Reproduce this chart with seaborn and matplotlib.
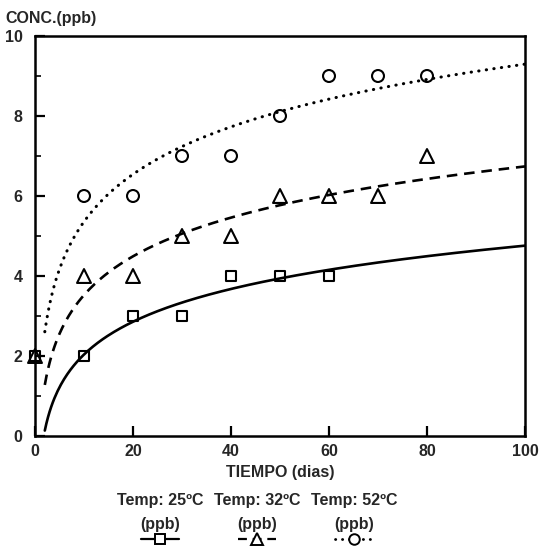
import numpy as np
import pandas as pd
import matplotlib
matplotlib.use("Agg")
import matplotlib.pyplot as plt
from matplotlib.lines import Line2D
import seaborn as sns

# Measured concentrations (ppb) by storage day
dias_25 = [0, 10, 20, 30, 40, 50, 60]
conc_25 = [2, 2, 3, 3, 4, 4, 4]
dias_32 = [0, 10, 20, 30, 40, 50, 60, 70, 80]
conc_32 = [2, 4, 4, 5, 5, 6, 6, 6, 7]
dias_52 = [10, 20, 30, 40, 50, 60, 70, 80]
conc_52 = [6, 6, 7, 7, 8, 9, 9, 9]

series_labels = ["Temp: 25ºC", "Temp: 32ºC", "Temp: 52ºC"]
x_ticks = [0, 20, 40, 60, 80, 100]
y_ticks = [0, 2, 4, 6, 8, 10]

sns.set_style("ticks")
plt.rcParams["font.family"] = ["Liberation Sans", "DejaVu Sans"]
plt.rcParams["font.weight"] = "bold"
FS = 11.5

fig = plt.figure(figsize=(5.42, 5.47), dpi=100)
ax = fig.add_axes([35 / 542, 1 - 436 / 547, 490 / 542, 400 / 547])

styles = [
    dict(marker="s", ls="-", dashes=None, ms=7.8),
    dict(marker="^", ls="--", dashes=(4, 2.6), ms=10),
    dict(marker="o", ls=":", dashes=(0.1, 2.4), ms=8.6),
]
data = [(dias_25, conc_25), (dias_32, conc_32), (dias_52, conc_52)]

x_fit = np.linspace(2, 100, 300)
for (xs, ys), st in zip(data, styles):
    df = pd.DataFrame({"dia": xs, "conc": ys})
    # logarithmic trend fitted on the days after day 0
    d = df[df["dia"] > 0]
    b, a = np.polyfit(np.log(d["dia"]), d["conc"], 1)
    curve = pd.DataFrame({"dia": x_fit, "conc": a + b * np.log(x_fit)})
    line_kw = dict(color="black", lw=1.9, ax=ax)
    if st["dashes"] is not None:
        sns.lineplot(data=curve, x="dia", y="conc", dashes=False, **line_kw)
        ln = ax.lines[-1]
        ln.set_dashes(st["dashes"])
        if st["ls"] == ":":
            ln.set_dash_capstyle("round")
            ln.set_linewidth(2.2)
    else:
        sns.lineplot(data=curve, x="dia", y="conc", **line_kw)
    sns.scatterplot(data=df, x="dia", y="conc", marker=st["marker"], s=st["ms"] ** 2,
                    facecolor="none", edgecolor="black", linewidth=1.5, ax=ax,
                    zorder=3, clip_on=False)

ax.set_xlim(0, 100)
ax.set_ylim(0, 10)
ax.set_xticks(x_ticks)
ax.set_yticks(y_ticks)
ax.set_yticks(np.arange(1, 10, 2), minor=True)
ax.tick_params(axis="both", which="major", direction="in", length=7, width=1.6,
               labelsize=FS, pad=6, color="black")
ax.tick_params(axis="y", which="minor", direction="in", length=4, width=1.4)
ax.tick_params(axis="y", pad=9)
for lab in ax.get_xticklabels() + ax.get_yticklabels():
    lab.set_fontweight("bold")
for sp in ax.spines.values():
    sp.set_visible(True)
    sp.set_linewidth(1.8)
    sp.set_color("black")
ax.set_xlabel("TIEMPO (dias)", fontsize=FS, fontweight="bold", labelpad=4)
ax.set_ylabel("")
fig.text(5 / 542, 1 - 18 / 547, "CONC.(ppb)", fontsize=FS, fontweight="bold",
         ha="left", va="center")

# legend: label above a short line sample with its marker
centers = [160, 257, 354]
for label, cx, st in zip(series_labels, centers, styles):
    fx = cx / 542
    fig.text(fx, 1 - 501 / 547, label, fontsize=FS, fontweight="bold",
             ha="center", va="center")
    fig.text(fx, 1 - 524 / 547, "(ppb)", fontsize=FS, fontweight="bold",
             ha="center", va="center")
    yl = 1 - 539 / 547
    ln = Line2D([(cx - 19) / 542, (cx + 19) / 542], [yl, yl], color="black",
                lw=1.6, transform=fig.transFigure)
    if st["dashes"] is not None:
        ln.set_dashes(st["dashes"])
        if st["ls"] == ":":
            ln.set_dash_capstyle("round")
            ln.set_linewidth(2.0)
    fig.add_artist(ln)
    mk = Line2D([fx], [yl], marker=st["marker"], ms=st["ms"] - 1, mfc="white",
                mec="black", mew=1.4, ls="none", transform=fig.transFigure)
    fig.add_artist(mk)

fig.savefig("out.png", dpi=100)
